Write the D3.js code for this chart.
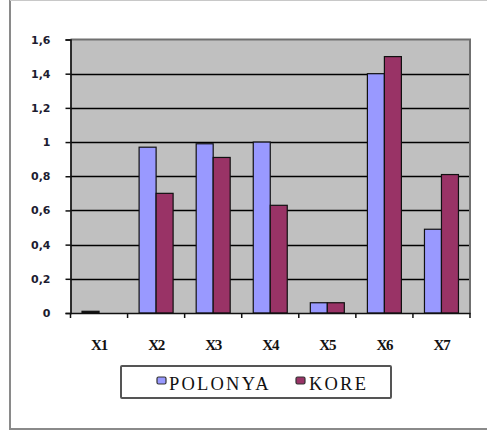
<!DOCTYPE html>
<html>
<head>
<meta charset="utf-8">
<script src="https://cdn.jsdelivr.net/npm/d3@7"></script>
<style>
  html, body { margin: 0; padding: 0; background: #fff; }
  svg { display: block; }
</style>
</head>
<body>
<svg id="chart" width="487" height="436"></svg>
<script>
// Category labels, series and tick values
const categories = ["X1", "X2", "X3", "X4", "X5", "X6", "X7"];
const seriesNames = ["POLONYA", "KORE"];
const polonya = [0.01, 0.97, 0.99, 1.00, 0.06, 1.40, 0.49];
const kore    = [0.00, 0.70, 0.91, 0.63, 0.06, 1.50, 0.81];
const yTicks  = [0, 0.2, 0.4, 0.6, 0.8, 1, 1.2, 1.4, 1.6];
const colors  = ["#9999ff", "#993366"];

const svg = d3.select("#chart");

// Outer frame (left, top and bottom edges)
svg.append("line").attr("x1", 10).attr("x2", 10).attr("y1", 0).attr("y2", 430)
  .attr("stroke", "#8a8a8a").attr("stroke-width", 2);
svg.append("line").attr("x1", 10).attr("x2", 487).attr("y1", 0.5).attr("y2", 0.5)
  .attr("stroke", "#c8c8c8").attr("stroke-width", 1);
svg.append("line").attr("x1", 9).attr("x2", 487).attr("y1", 429).attr("y2", 429)
  .attr("stroke", "#8a8a8a").attr("stroke-width", 2);

const plot = { left: 70.5, right: 470, top: 39.5, bottom: 313 };

const x = d3.scaleBand().domain(categories).range([plot.left, plot.right]).paddingInner(0).paddingOuter(0);
const y = d3.scaleLinear().domain([0, 1.6]).range([plot.bottom, plot.top]);

// Plot background
svg.append("rect")
  .attr("x", plot.left).attr("y", plot.top)
  .attr("width", plot.right - plot.left).attr("height", plot.bottom - plot.top)
  .attr("fill", "#c0c0c0");

// Horizontal gridlines
svg.append("g").selectAll("line").data(yTicks.filter(d => d > 0 && d < 1.6)).join("line")
  .attr("x1", plot.left).attr("x2", plot.right)
  .attr("y1", d => Math.round(y(d)) + 0.5).attr("y2", d => Math.round(y(d)) + 0.5)
  .attr("stroke", "#000").attr("stroke-width", 1.7);

// Plot border: top and right edges
svg.append("path")
  .attr("d", `M${plot.left},${plot.top}H${plot.right}V${plot.bottom}`)
  .attr("fill", "none").attr("stroke", "#707070").attr("stroke-width", 2);

// Bars
const barW = 17;
const data = categories.map((c, i) => ({ c, vals: [polonya[i], kore[i]] }));
const groups = svg.append("g").selectAll("g").data(data).join("g");
groups.selectAll("rect").data(d => d.vals.map((v, k) => ({ c: d.c, v, k }))).join("rect")
  .filter(d => d.v > 0)
  .attr("x", d => x(d.c) + x.bandwidth() / 2 - barW + d.k * barW)
  .attr("y", d => y(d.v))
  .attr("width", barW)
  .attr("height", d => Math.max(plot.bottom - y(d.v), 1.5))
  .attr("fill", d => d.v < 0.03 ? "#111" : colors[d.k])
  .attr("stroke", "#111").attr("stroke-width", 1.2);

// Y axis
const yAxis = d3.axisLeft(y).tickValues(yTicks).tickSize(5).tickPadding(15)
  .tickFormat(d => d3.format("")(+d.toFixed(1)).replace(".", ","));
const gy = svg.append("g").attr("transform", `translate(${plot.left},0)`).call(yAxis);
gy.select(".domain").attr("stroke", "#111").attr("stroke-width", 1.7);
gy.selectAll(".tick line").attr("stroke", "#111").attr("stroke-width", 1.5);
gy.selectAll(".tick text")
  .attr("font-family", "'DejaVu Sans', sans-serif").attr("font-weight", "bold")
  .attr("font-size", 11).attr("fill", "#1c1c30");

// X axis
const xAxis = d3.axisBottom(x).tickSize(0).tickPadding(26);
const gx = svg.append("g").attr("transform", `translate(0,${plot.bottom})`).call(xAxis);
gx.select(".domain").attr("stroke", "#111").attr("stroke-width", 1.7);
gx.selectAll(".tick text")
  .attr("font-family", "'Liberation Serif', serif").attr("font-weight", "bold")
  .attr("font-size", 15).attr("fill", "#111").attr("letter-spacing", -1.2);
// category boundary ticks
svg.append("g").selectAll("line").data(categories.concat(["end"])).join("line")
  .attr("x1", (d, i) => plot.left + i * x.bandwidth()).attr("x2", (d, i) => plot.left + i * x.bandwidth())
  .attr("y1", plot.bottom).attr("y2", plot.bottom + 5)
  .attr("stroke", "#111").attr("stroke-width", 1.5);

// Legend
const legend = svg.append("g");
legend.append("rect").attr("x", 121).attr("y", 366).attr("width", 270).attr("height", 32)
  .attr("fill", "#fff").attr("stroke", "#555").attr("stroke-width", 2).attr("rx", 1);
const legendItems = [
  { name: seriesNames[0], color: colors[0], sx: 157, tx: 169 },
  { name: seriesNames[1], color: colors[1], sx: 296, tx: 309 }
];
legend.selectAll("g.item").data(legendItems).join("g").attr("class", "item").each(function (d) {
  const g = d3.select(this);
  g.append("rect").attr("x", d.sx).attr("y", 377).attr("width", 9).attr("height", 7)
    .attr("rx", 1.5).attr("fill", d.color).attr("stroke", "#333").attr("stroke-width", 1.2);
  g.append("text").attr("x", d.tx).attr("y", 389.5)
    .attr("font-family", "'Liberation Serif', serif").attr("font-size", 18.5)
    .attr("fill", "#111").attr("letter-spacing", 2.2)
    .text(d.name);
});
</script>
</body>
</html>
